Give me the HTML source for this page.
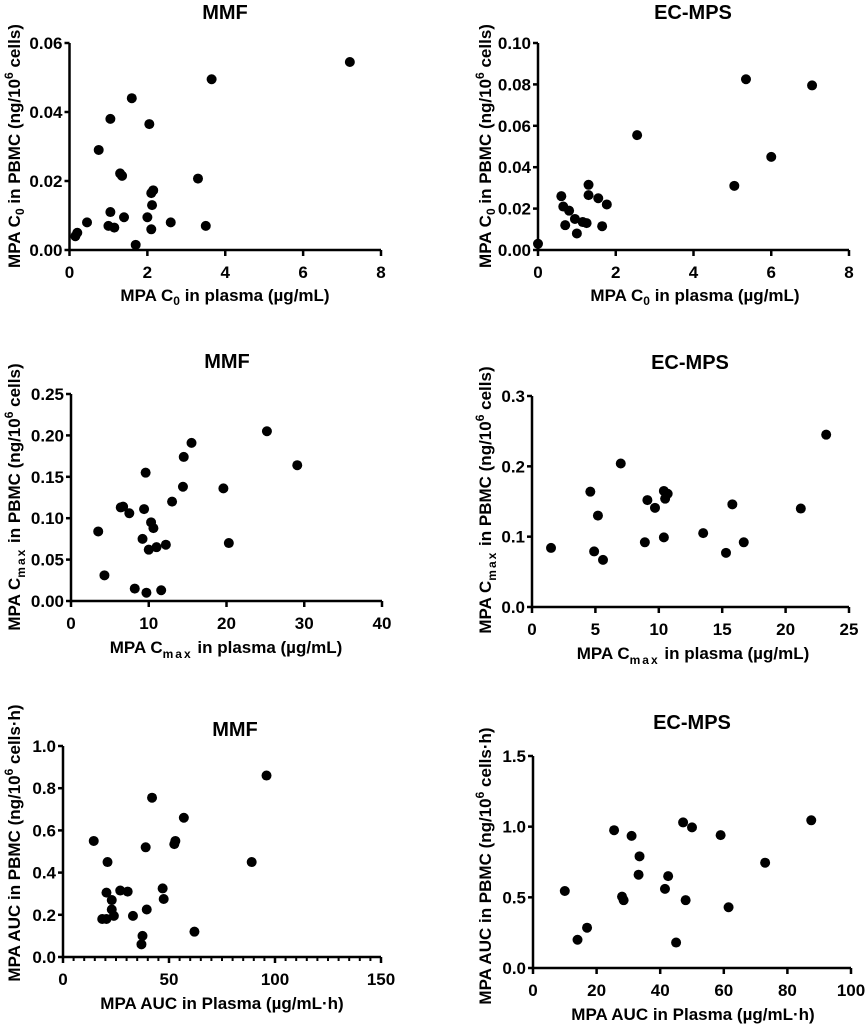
<!DOCTYPE html>
<html><head><meta charset="utf-8"><style>
body{margin:0;background:#fff;}
svg{display:block;font-family:"Liberation Sans",Arial,sans-serif;font-weight:bold;}
</style></head><body>
<svg id="fig" width="865" height="1025" viewBox="0 0 865 1025" xmlns="http://www.w3.org/2000/svg"></svg>
<script>
// Panel data arrays
const p1X=[0.15,0.2,0.45,0.75,1.0,1.05,1.05,1.15,1.3,1.35,1.4,1.6,1.7,2.0,2.05,2.1,2.1,2.12,2.15,2.6,3.3,3.5,3.65,7.2];
const p1Y=[0.004,0.005,0.008,0.029,0.007,0.038,0.011,0.0065,0.0222,0.0215,0.0095,0.044,0.0015,0.0095,0.0365,0.006,0.0165,0.013,0.0173,0.008,0.0207,0.007,0.0495,0.0545];
const p1XTicks=[0,2,4,6,8];
const p1YTicks=["0.00","0.02","0.04","0.06"];

const p2X=[0,0.6,0.65,0.7,0.8,0.95,1.0,1.15,1.25,1.3,1.3,1.55,1.65,1.77,2.55,5.05,5.35,6.0,7.05];
const p2Y=[0.003,0.026,0.021,0.012,0.019,0.015,0.008,0.0135,0.013,0.0315,0.0265,0.025,0.0115,0.022,0.0555,0.031,0.0825,0.045,0.0795];
const p2XTicks=[0,2,4,6,8];
const p2YTicks=["0.00","0.02","0.04","0.06","0.08","0.10"];

const p3X=[3.5,4.3,6.4,6.7,7.5,8.2,9.2,9.4,9.6,9.7,10.0,10.3,10.6,11.0,11.6,12.2,13.0,14.4,14.5,15.5,19.6,20.3,25.2,29.1];
const p3Y=[0.084,0.031,0.113,0.114,0.106,0.015,0.075,0.111,0.155,0.010,0.062,0.095,0.088,0.065,0.013,0.068,0.120,0.138,0.174,0.191,0.136,0.070,0.205,0.164];
const p3XTicks=[0,10,20,30,40];
const p3YTicks=["0.00","0.05","0.10","0.15","0.20","0.25"];

const p4X=[1.5,4.6,4.9,5.2,5.6,7.0,8.9,9.1,9.7,10.4,10.5,10.7,10.4,13.5,15.3,15.8,16.7,21.2,23.2];
const p4Y=[0.084,0.164,0.079,0.130,0.067,0.204,0.092,0.152,0.141,0.165,0.154,0.161,0.099,0.105,0.077,0.146,0.092,0.140,0.245];
const p4XTicks=[0,5,10,15,20,25];
const p4YTicks=["0.0","0.1","0.2","0.3"];

const p5X=[14.5,18.5,20.5,20.5,21,23,23,24,27,30.5,33,37,37.5,39,39.5,42,47,47.5,52.5,53,57,62,89,96];
const p5Y=[0.55,0.18,0.305,0.18,0.45,0.27,0.225,0.195,0.315,0.31,0.195,0.06,0.10,0.52,0.225,0.755,0.325,0.275,0.535,0.55,0.66,0.12,0.45,0.86];
const p5XTicks=[0,50,100,150];
const p5YTicks=["0.0","0.2","0.4","0.6","0.8","1.0"];

const p6X=[10,14,17,25.5,28,28.5,31,33.2,33.5,41.5,42.5,45,47.2,48,50,59,61.5,73,87.5];
const p6Y=[0.545,0.20,0.285,0.975,0.505,0.48,0.935,0.66,0.79,0.56,0.65,0.18,1.03,0.48,0.995,0.94,0.43,0.745,1.045];
const p6XTicks=[0,20,40,60,80,100];
const p6YTicks=["0.0","0.5","1.0","1.5"];

const NS="http://www.w3.org/2000/svg";
const svg=document.getElementById('fig');
function mk(tag,attrs,parent){const e=document.createElementNS(NS,tag);for(const k in attrs)e.setAttribute(k,attrs[k]);(parent||svg).appendChild(e);return e;}

function panel(cfg){
  const g=mk('g',{});
  
  
  const xMin=cfg.xt[0],xMax=cfg.xt[cfg.xt.length-1];
  const yv=cfg.yt.map(Number);const yMin=yv[0],yMax=yv[yv.length-1];
  const sx=v=>cfg.x0+(v-xMin)/(xMax-xMin)*(cfg.x1-cfg.x0);
  const sy=v=>cfg.y0-(v-yMin)/(yMax-yMin)*(cfg.y0-cfg.y1);
  const t=mk('text',{x:cfg.tx,y:cfg.ty,'text-anchor':'middle','font-size':20},g);t.textContent=cfg.title;
  
  
  const ax=mk('path',{d:`M${cfg.x0},${cfg.y1}V${cfg.y0}H${cfg.x1}`,stroke:'#000','stroke-width':2.5,fill:'none'},g);
  
  
  cfg.yt.forEach(lbl=>{const y=sy(Number(lbl));
    mk('line',{x1:cfg.x0-5,x2:cfg.x0,y1:y,y2:y,stroke:'#000','stroke-width':2.5},g);
    const tt=mk('text',{x:cfg.x0-7,y:y+6,'text-anchor':'end','font-size':17},g);tt.textContent=lbl;
    
    
  });
  if(cfg.minor){for(let v=xMin;v<=xMax;v+=cfg.minor){const x=sx(v);mk('line',{x1:x,x2:x,y1:cfg.y0,y2:cfg.y0+4,stroke:'#000','stroke-width':2},g);}}
  cfg.xt.forEach(v=>{const x=sx(v);
    mk('line',{x1:x,x2:x,y1:cfg.y0,y2:cfg.y0+6,stroke:'#000','stroke-width':2.5},g);
    const tt=mk('text',{x:x,y:cfg.y0+28,'text-anchor':'middle','font-size':17},g);tt.textContent=v;
    
    
  });
  const xt=mk('text',{x:cfg.xlx,y:cfg.xly,'text-anchor':'middle','font-size':17},g);xt.innerHTML=cfg.xl;
  
  
  const yt=mk('text',{x:0,y:0,'text-anchor':'middle','font-size':17,transform:`translate(${cfg.ylx},${cfg.yly}) rotate(-90)`},g);yt.innerHTML=cfg.yl;
  
  
  cfg.xs.forEach((v,i)=>{const c=mk('circle',{cx:sx(v),cy:sy(cfg.ys[i]),r:5,fill:'#000'},g);
    
    
  });
}
const c0='C<tspan font-size="12" dy="4">0</tspan><tspan dy="-4">';
const cmax='C<tspan font-size="12" dy="5" letter-spacing="2">max</tspan><tspan dy="-5">';
const e6='(ng/10<tspan font-size="12" dy="-7">6</tspan><tspan dy="7">';
panel({name:'panel-mmf-c0',title:'MMF',tx:225,ty:19,x0:69.5,x1:381,y0:250,y1:43,xt:p1XTicks,yt:p1YTicks,xs:p1X,ys:p1Y,
 xl:'MPA '+c0+' in plasma (µg/mL)</tspan>',xlx:225,xly:301,yl:'MPA '+c0+' in PBMC '+e6+' cells)</tspan></tspan>',ylx:20,yly:146});
panel({name:'panel-ecmps-c0',title:'EC-MPS',tx:693,ty:19,x0:538,x1:849,y0:250,y1:43,xt:p2XTicks,yt:p2YTicks,xs:p2X,ys:p2Y,
 xl:'MPA '+c0+' in plasma (µg/mL)</tspan>',xlx:695,xly:301,yl:'MPA '+c0+' in PBMC '+e6+' cells)</tspan></tspan>',ylx:491,yly:146});
panel({name:'panel-mmf-cmax',title:'MMF',tx:227,ty:368,x0:71,x1:382,y0:601,y1:394,xt:p3XTicks,yt:p3YTicks,xs:p3X,ys:p3Y,
 xl:'MPA '+cmax+' in plasma (µg/mL)</tspan>',xlx:226,xly:653,yl:'MPA '+cmax+' in PBMC '+e6+' cells)</tspan></tspan>',ylx:20,yly:497});
panel({name:'panel-ecmps-cmax',title:'EC-MPS',tx:690,ty:369,x0:532,x1:849,y0:607,y1:396,xt:p4XTicks,yt:p4YTicks,xs:p4X,ys:p4Y,
 xl:'MPA '+cmax+' in plasma (µg/mL)</tspan>',xlx:693,xly:659,yl:'MPA '+cmax+' in PBMC '+e6+' cells)</tspan></tspan>',ylx:491,yly:500});
panel({name:'panel-mmf-auc',title:'MMF',tx:235,ty:736,x0:63,x1:381,y0:957,y1:746,xt:p5XTicks,yt:p5YTicks,xs:p5X,ys:p5Y,minor:5,
 xl:'MPA AUC in Plasma (µg/mL·h)',xlx:222,xly:1009,yl:'MPA AUC in PBMC '+e6+' cells·h)</tspan>',ylx:20,yly:843});
panel({name:'panel-ecmps-auc',title:'EC-MPS',tx:692,ty:729,x0:533,x1:851,y0:968,y1:756,xt:p6XTicks,yt:p6YTicks,xs:p6X,ys:p6Y,
 xl:'MPA AUC in Plasma (µg/mL·h)',xlx:693,xly:1020,yl:'MPA AUC in PBMC '+e6+' cells·h)</tspan>',ylx:491,yly:866});
</script>
</body></html>
